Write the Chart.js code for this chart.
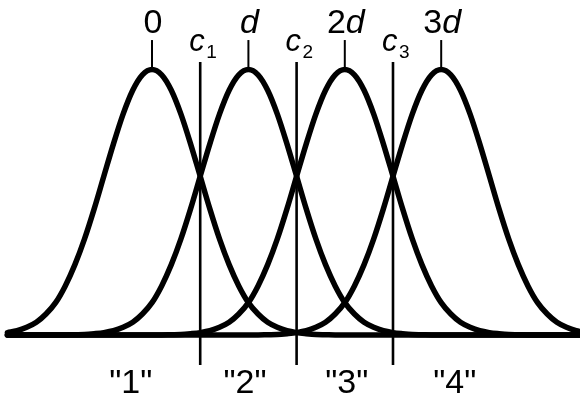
<!DOCTYPE html>
<html>
<head>
<meta charset="utf-8">
<script src="https://cdn.jsdelivr.net/npm/chart.js@4"></script>
<style>
  html, body { margin: 0; padding: 0; background: #fff; }
  canvas { display: block; }
</style>
</head>
<body>
<canvas id="c" width="580" height="397"></canvas>
<script>
// x grid in units of d
const xGrid = [-1.5,-1.4,-1.3,-1.2,-1.1,-1.0,-0.9,-0.8,-0.7,-0.6,-0.5,-0.4,-0.3,-0.2,-0.1,
  0.0,0.1,0.2,0.3,0.4,0.5,0.6,0.7,0.8,0.9,1.0,1.1,1.2,1.3,1.4,1.5,1.6,1.7,1.8,1.9,
  2.0,2.1,2.2,2.3,2.4,2.5,2.6,2.7,2.8,2.9,3.0,3.1,3.2,3.3,3.4,3.5,3.6,3.7,3.8,3.9,
  4.0,4.1,4.2,4.3,4.4,4.5];

// density curves (relative height)
const curve0 = [0.009,0.016,0.029,0.048,0.079,0.122,0.185,0.265,0.362,0.475,0.598,0.720,0.832,0.922,0.980,
  1.000,0.980,0.922,0.832,0.720,0.598,0.475,0.362,0.265,0.185,0.122,0.079,0.048,0.029,0.016,0.009,0.005,0.002,0.001,0,
  0,0,0,0,0,0,0,0,0,0,0,0,0,0,0,0,0,0,0,0,
  0,0,0,0,0,0];
const curve1 = [0,0,0,0,0,0,0,0.001,0.002,0.005,0.009,0.016,0.029,0.048,0.079,
  0.122,0.185,0.265,0.362,0.475,0.598,0.720,0.832,0.922,0.980,1.000,0.980,0.922,0.832,0.720,0.598,0.475,0.362,0.265,0.185,
  0.122,0.079,0.048,0.029,0.016,0.009,0.005,0.002,0.001,0,0,0,0,0,0,0,0,0,0,0,
  0,0,0,0,0,0];
const curve2 = [0,0,0,0,0,0,0,0,0,0,0,0,0,0,0,
  0,0,0.001,0.002,0.005,0.009,0.016,0.029,0.048,0.079,0.122,0.185,0.265,0.362,0.475,0.598,0.720,0.832,0.922,0.980,
  1.000,0.980,0.922,0.832,0.720,0.598,0.475,0.362,0.265,0.185,0.122,0.079,0.048,0.029,0.016,0.009,0.005,0.002,0.001,0,
  0,0,0,0,0,0];
const curve3 = [0,0,0,0,0,0,0,0,0,0,0,0,0,0,0,
  0,0,0,0,0,0,0,0,0,0,0,0,0.001,0.002,0.005,0.009,0.016,0.029,0.048,0.079,
  0.122,0.185,0.265,0.362,0.475,0.598,0.720,0.832,0.922,0.980,1.000,0.980,0.922,0.832,0.720,0.598,0.475,0.362,0.265,0.185,
  0.122,0.079,0.048,0.029,0.016,0.009];

// peak positions (means) and thresholds
const means = [0, 1, 2, 3];
const meanLabels = [["0",""],["","d"],["2","d"],["3","d"]]; // [upright part, italic part]
const thresholds = [0.5, 1.5, 2.5];
const thresholdLabels = [["c","1"],["c","2"],["c","3"]];
const regionLabels = ['"1"', '"2"', '"3"', '"4"'];
const regionLabelPos = [-0.22, 0.965, 2.02, 3.14];

// geometry of marks (in data units)
const vLineBottom = -0.113, vLineTop = 1.028;
const tickTop = 1.111;

function pts(ys) { return xGrid.map((x, i) => ({ x: x, y: ys[i] })); }

const datasets = [];
[curve0, curve1, curve2, curve3].forEach(c => {
  datasets.push({
    data: pts(c), showLine: true, borderColor: '#000', borderWidth: 5.5,
    pointRadius: 0, cubicInterpolationMode: 'monotone', fill: false,
    borderCapStyle: 'round', borderJoinStyle: 'round'
  });
});
thresholds.forEach(t => {
  datasets.push({
    data: [{ x: t, y: vLineBottom }, { x: t, y: vLineTop }], showLine: true,
    borderColor: '#000', borderWidth: 2.6, pointRadius: 0, tension: 0
  });
});
means.forEach(m => {
  datasets.push({
    data: [{ x: m, y: 1 }, { x: m, y: tickTop }], showLine: true,
    borderColor: '#000', borderWidth: 2, pointRadius: 0, tension: 0
  });
});

const FONT = '"Liberation Sans", Arial, Helvetica, sans-serif';

const labelPlugin = {
  id: 'labels',
  afterDatasetsDraw(chart) {
    const ctx = chart.ctx;
    const xs = chart.scales.x;
    ctx.save();
    ctx.fillStyle = '#000';
    ctx.textBaseline = 'alphabetic';
    ctx.textAlign = 'left';
    // mean labels
    means.forEach((m, i) => {
      const [up, it] = meanLabels[i];
      ctx.font = '34px ' + FONT;
      const wu = ctx.measureText(up).width;
      ctx.font = 'italic 34px ' + FONT;
      const wi = ctx.measureText(it).width;
      const cx = xs.getPixelForValue(m) + 1;
      let x0 = cx - (wu + wi) / 2;
      ctx.font = '34px ' + FONT;
      ctx.fillText(up, x0, 33);
      ctx.font = 'italic 34px ' + FONT;
      ctx.fillText(it, x0 + wu, 33);
    });
    // threshold labels
    thresholds.forEach((t, i) => {
      const [c, s] = thresholdLabels[i];
      const px = xs.getPixelForValue(t);
      ctx.font = 'italic 31px ' + FONT;
      const x0 = px - 11;
      ctx.fillText(c, x0, 51);
      ctx.font = '19px ' + FONT;
      ctx.fillText(s, x0 + 17, 58);
    });
    // region labels
    ctx.textAlign = 'center';
    ctx.font = '34px ' + FONT;
    regionLabels.forEach((l, i) => {
      ctx.fillText(l, xs.getPixelForValue(regionLabelPos[i]), 393);
    });
    ctx.restore();
  }
};

new Chart(document.getElementById('c'), {
  type: 'scatter',
  data: { datasets: datasets },
  options: {
    responsive: false,
    animation: false,
    events: [],
    layout: { padding: 0 },
    plugins: { legend: { display: false }, tooltip: { enabled: false } },
    scales: {
      x: { type: 'linear', display: false, min: -1.577, max: 4.44 },
      y: { type: 'linear', display: false, min: -0.2335, max: 1.2618 }
    }
  },
  plugins: [labelPlugin]
});
</script>
</body>
</html>
